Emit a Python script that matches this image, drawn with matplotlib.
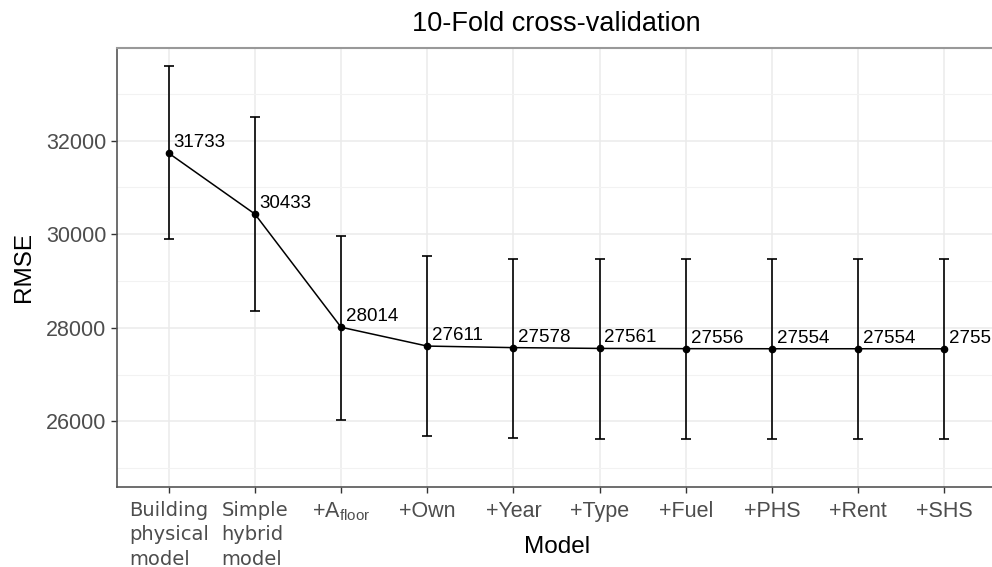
import numpy as np
import matplotlib
matplotlib.use("Agg")
import matplotlib.pyplot as plt
from matplotlib.ticker import MultipleLocator

plt.rcParams['font.family'] = ['Liberation Sans', 'DejaVu Sans']
plt.rcParams['mathtext.fontset'] = 'custom'
plt.rcParams['mathtext.rm'] = 'Liberation Sans'

# data
models = ['Building\nphysical\nmodel', 'Simple\nhybrid\nmodel', r'+A$_{\mathrm{floor}}$',
          '+Own', '+Year', '+Type', '+Fuel', '+PHS', '+Rent', '+SHS']
rmse = [31733, 30433, 28014, 27611, 27578, 27561, 27556, 27554, 27554, 27553]
rmse_labels = ['31733', '30433', '28014', '27611', '27578', '27561', '27556', '27554', '27554', '2755']
upper = [33590, 32500, 29970, 29530, 29480, 29480, 29475, 29475, 29475, 29475]
lower = [29890, 28350, 26040, 25680, 25640, 25620, 25620, 25620, 25620, 25620]

x = np.arange(1, len(models) + 1)
rmse = np.array(rmse)
yerr = np.vstack([rmse - np.array(lower), np.array(upper) - rmse])

fig = plt.figure(figsize=(9.92, 5.67), dpi=100)
ax = fig.add_axes([117 / 992, 80 / 567, 879 / 992, 439 / 567])

ax.set_axisbelow(True)
ax.grid(which='major', color='#EBEBEB', linewidth=1.1)
ax.grid(which='minor', axis='y', color='#F2F2F2', linewidth=0.8)

ax.errorbar(x, rmse, yerr=yerr, fmt='none', ecolor='black', elinewidth=1.2,
            capsize=3.5, capthick=1.2)
ax.plot(x, rmse, color='black', linewidth=1.1, marker='o', markersize=4.5)

for xi, yi, lab in zip(x, rmse, rmse_labels):
    ax.annotate(lab, (xi, yi), xytext=(3.5, 1.5), textcoords='offset points',
                ha='left', va='bottom', fontsize=13.5, color='black', clip_on=False)

ax.set_xlim(0.4, 10.6)
ax.set_ylim(24600, 33980)
ax.yaxis.set_major_locator(MultipleLocator(2000))
ax.yaxis.set_minor_locator(MultipleLocator(1000))
ax.tick_params(axis='y', which='minor', length=0)
ax.tick_params(axis='both', which='major', length=4, width=1, color='#333333',
               labelcolor='#4D4D4D', labelsize=15.5)
ax.tick_params(axis='x', pad=6)

ax.set_xticks(x)
ax.set_xticklabels(models)
for i, t in enumerate(ax.get_xticklabels()):
    if i < 2:
        t.set_family('DejaVu Sans')
        t.set_fontsize(14)
        t.set_multialignment('left')
        t.set_linespacing(1.36)

for side in ['top', 'right']:
    ax.spines[side].set_color('#999999')
    ax.spines[side].set_linewidth(1.5)
for side in ['left', 'bottom']:
    ax.spines[side].set_color('#555555')
    ax.spines[side].set_linewidth(1.2)

fig.text(557 / 992, 1 - 547 / 567, 'Model', ha='center', va='center', fontsize=17.5)
ax.set_ylabel('RMSE', fontsize=17.5, labelpad=8)
ax.set_title('10-Fold cross-validation', fontsize=19.5, pad=12)

fig.savefig('out.png', dpi=100)
